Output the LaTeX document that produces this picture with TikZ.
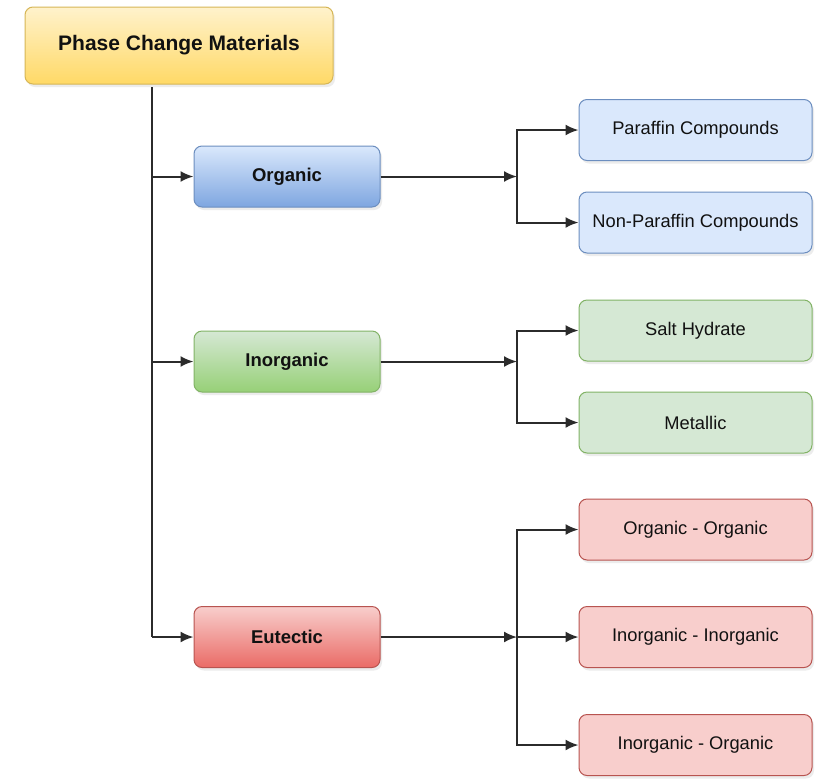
\documentclass[tikz,border=0pt]{standalone}
\usepackage{fontspec}
\setmainfont{Liberation Sans}
\usetikzlibrary{arrows.meta,shadows}
\definecolor{lineC}{HTML}{2B2B2B}
\definecolor{yTop}{HTML}{FFF2CC}\definecolor{yBot}{HTML}{FFD966}\definecolor{yBrd}{HTML}{D6B656}
\definecolor{bTop}{HTML}{DAE8FC}\definecolor{bBot}{HTML}{7EA6E0}\definecolor{bBrd}{HTML}{6C8EBF}
\definecolor{gTop}{HTML}{D5E8D4}\definecolor{gBot}{HTML}{97D077}\definecolor{gBrd}{HTML}{82B366}
\definecolor{rTop}{HTML}{F8CECC}\definecolor{rBot}{HTML}{EA6B66}\definecolor{rBrd}{HTML}{B85450}
\definecolor{txt}{HTML}{111111}
\tikzset{
  boxbase/.style={rectangle, rounded corners=8pt, line width=1pt, inner sep=0pt, text=txt,
    drop shadow={opacity=0.15, shadow xshift=2pt, shadow yshift=-3pt}},
  rootbox/.style={boxbase, draw=yBrd, top color=yTop, bottom color=yBot,
    minimum width=308pt, minimum height=77pt, font=\fontsize{21}{25}\selectfont\bfseries},
  catbox/.style={boxbase, minimum width=186pt, minimum height=61pt, font=\fontsize{18.5}{22}\selectfont\bfseries},
  childbox/.style={boxbase, minimum width=233pt, minimum height=61pt, font=\fontsize{18.3}{22}\selectfont},
  conn/.style={draw=lineC, line width=2pt},
  arr/.style={conn, -{Latex[length=13pt,width=11pt]}},
}
\begin{document}
\begin{tikzpicture}[x=1pt,y=-1pt]
\useasboundingbox[fill=white] (0,0) rectangle (830,780);
\node[rootbox] (root) at (179,45.5) {Phase Change Materials};

\node[catbox, draw=bBrd, top color=bTop, bottom color=bBot] (org) at (287,176.5) {Organic};
\node[catbox, draw=gBrd, top color=gTop, bottom color=gBot] (inorg) at (287,361.5) {Inorganic};
\node[catbox, draw=rBrd, top color=rTop, bottom color=rBot] (eut) at (287,637) {Eutectic};

\node[childbox, draw=bBrd, fill=bTop] (par) at (695.5,130) {Paraffin Compounds};
\node[childbox, draw=bBrd, fill=bTop] (npar) at (695.5,222.5) {Non-Paraffin Compounds};
\node[childbox, draw=gBrd, fill=gTop] (salt) at (695.5,330.5) {Salt Hydrate};
\node[childbox, draw=gBrd, fill=gTop] (met) at (695.5,422.5) {Metallic};
\node[childbox, draw=rBrd, fill=rTop] (oo) at (695.5,529.5) {Organic - Organic};
\node[childbox, draw=rBrd, fill=rTop] (ii) at (695.5,637) {Inorganic - Inorganic};
\node[childbox, draw=rBrd, fill=rTop] (io) at (695.5,745) {Inorganic - Organic};

% trunk
\coordinate (trunk) at (152,87);
\draw[conn] (trunk) -- (trunk |- eut.west);
\draw[arr] (trunk |- org.west) -- (org.west);
\draw[arr] (trunk |- inorg.west) -- (inorg.west);
\draw[arr] (trunk |- eut.west) -- (eut.west);

% branch points
\coordinate (bo) at (517,176.5);
\coordinate (bi) at (517,361.5);
\coordinate (be) at (517,637);

\draw[arr] (org.east) -- (bo);
\draw[arr] (bo) |- (par.west);
\draw[arr] (bo) |- (npar.west);

\draw[arr] (inorg.east) -- (bi);
\draw[arr] (bi) |- (salt.west);
\draw[arr] (bi) |- (met.west);

\draw[arr] (eut.east) -- (be);
\draw[arr] (be) |- (oo.west);
\draw[arr] (be) -- (ii.west);
\draw[arr] (be) |- (io.west);
\end{tikzpicture}
\end{document}
